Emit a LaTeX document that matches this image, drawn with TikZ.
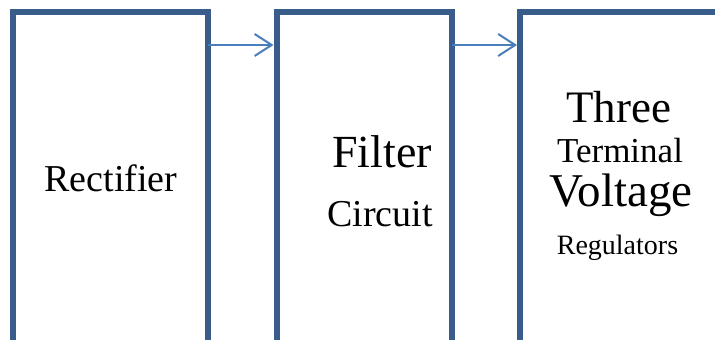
\documentclass[tikz,border=0pt]{standalone}
\usepackage{fontspec}
\setmainfont{Liberation Serif}
\usepackage{xcolor}
\usepackage{tikz}
\usetikzlibrary{arrows.meta,positioning}
\definecolor{boxblue}{HTML}{385D8A}
\definecolor{arrowblue}{HTML}{4A7EBB}
\tikzset{
  stagebox/.style={draw=boxblue,line width=6pt,fill=white,inner sep=0pt,outer sep=0pt,minimum height=347.5pt},
  stagearrow/.style={-{Straight Barb[length=17pt,width=22pt,line join=miter]},draw=arrowblue,line width=2pt},
  stagetext/.style={inner sep=0pt,anchor=base,font=\fontsize{#1}{#1}\selectfont},
}
\begin{document}
\begin{tikzpicture}[x=1pt,y=1pt,node distance=68.5pt]
    \clip (0,0) rectangle (715,340);
    \node[stagebox,minimum width=195pt] (rect) at (110.5,153.75) {};
    \node[stagebox,minimum width=175pt,right=of rect] (filt) {};
    \node[stagebox,minimum width=220pt,right=of filt] (regu) {};
    \node[stagetext=38] (trect) at (111,148) {Rectifier};
    \node[stagetext=46] (tfilt1) at (382,172) {Filter};
    \node[stagetext=38] (tfilt2) at (380,113) {Circuit};
    \node[stagetext=45] (tregu1) at (618.5,217) {Three};
    \node[stagetext=35] (tregu2) at (620,177) {Terminal};
    \node[stagetext=47] (tregu3) at (621,133) {Voltage};
    \node[stagetext=28] (tregu4) at (617.5,85) {Regulators};
    \draw[stagearrow] ([yshift=-32.5pt]rect.north east) -- ([yshift=-32.5pt,xshift=-3pt]filt.north west);
    \draw[stagearrow] ([yshift=-32.5pt]filt.north east) -- ([yshift=-32.5pt,xshift=-3pt]regu.north west);
  \end{tikzpicture}
\end{document}
